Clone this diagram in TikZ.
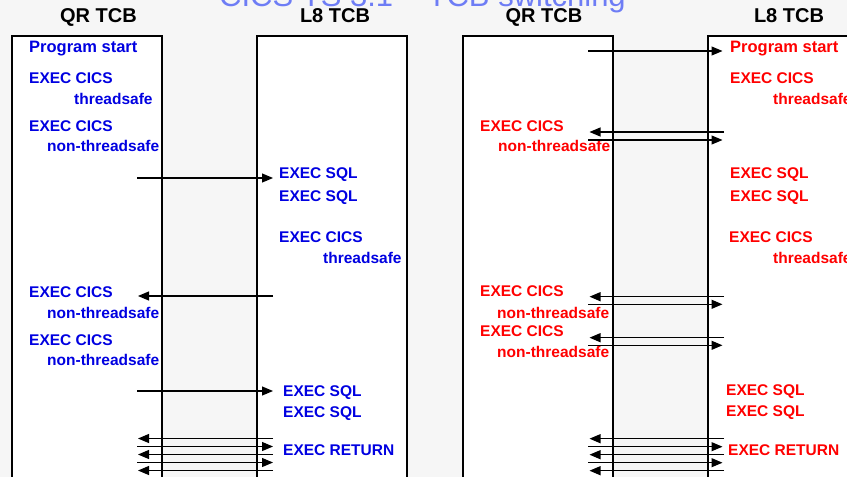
\documentclass[tikz,border=0pt]{standalone}
\usepackage{fontspec}
\setmainfont{Liberation Sans}
\usetikzlibrary{arrows.meta}
\definecolor{tblue}{RGB}{0,0,225}
\definecolor{tred}{RGB}{255,0,0}
\definecolor{ttitle}{RGB}{110,125,245}
\definecolor{bgc}{RGB}{246,246,246}
\begin{document}
\begin{tikzpicture}[x=1pt,y=-1pt,
  tcb/.style={draw=black,line width=2.2pt,fill=white,anchor=north west,minimum width=150pt,minimum height=460pt,inner sep=0},
  hdr/.style={font=\fontsize{20}{24}\selectfont\bfseries,anchor=base,inner sep=0},
  bt/.style={font=\fontsize{15.5}{18}\selectfont\bfseries,text=tblue,anchor=base west,inner sep=0},
  rt/.style={bt,text=tred},
  bigt/.style={font=\fontsize{16.5}{19}\selectfont\bfseries},
  conn/.style={line width=1.2pt,-{Triangle[length=11pt,width=9pt]}}]
\useasboundingbox (0,0) rectangle (847,477);
\fill[bgc] (0,0) rectangle (847,477);

% title (cut at top)
\node[anchor=base west,font=\fontsize{31}{36}\selectfont,text=ttitle,inner sep=0] (title) at (219,6) {CICS TS 3.1 – TCB switching};

% boxes
\node[tcb] (qrA) at (11,35) {};
\node[tcb] (leA) at (256,35) {};
\node[tcb] (qrB) at (461.5,35) {};
\node[tcb] (leB) at (707,35) {};

% headers
\node[hdr] (hqrA) at (98.5,22) {QR TCB};
\node[hdr] (hleA) at (335,22) {L8 TCB};
\node[hdr] (hqrB) at (544,22) {QR TCB};
\node[hdr] (hleB) at (789,22) {L8 TCB};

% left scenario (blue)
\node[bt,bigt] (b1) at (29,52) {Program start};
\node[bt] (b2) at (29,83.3) {EXEC CICS};
\node[bt] (b3) at (74,104) {threadsafe};
\node[bt] (b4) at (29,131) {EXEC CICS};
\node[bt] (b5) at (47,151.7) {non-threadsafe};
\node[bt] (b6) at (279,178.3) {EXEC SQL};
\node[bt] (b7) at (279,201.7) {EXEC SQL};
\node[bt] (b8) at (279,242.3) {EXEC CICS};
\node[bt] (b9) at (323,263) {threadsafe};
\node[bt] (b10) at (29,297.3) {EXEC CICS};
\node[bt] (b11) at (47,318) {non-threadsafe};
\node[bt] (b12) at (29,345) {EXEC CICS};
\node[bt] (b13) at (47,365) {non-threadsafe};
\node[bt] (b14) at (283,396) {EXEC SQL};
\node[bt] (b15) at (283,417.3) {EXEC SQL};
\node[bt] (b16) at (283,455.3) {EXEC RETURN};

% right scenario (red)
\node[rt,bigt] (r1) at (730,52) {Program start};
\node[rt] (r2) at (730,83.3) {EXEC CICS};
\node[rt] (r3) at (773,104) {threadsafe};
\node[rt] (r4) at (480,131) {EXEC CICS};
\node[rt] (r5) at (498,151.7) {non-threadsafe};
\node[rt] (r6) at (730,178.3) {EXEC SQL};
\node[rt] (r7) at (730,201.7) {EXEC SQL};
\node[rt] (r8) at (729,242.3) {EXEC CICS};
\node[rt] (r9) at (773,263) {threadsafe};
\node[rt] (r10) at (480,296.7) {EXEC CICS};
\node[rt] (r11) at (497,318) {non-threadsafe};
\node[rt] (r12) at (480,336.7) {EXEC CICS};
\node[rt] (r13) at (497,357.3) {non-threadsafe};
\node[rt] (r14) at (726,395.7) {EXEC SQL};
\node[rt] (r15) at (726,416.7) {EXEC SQL};
\node[rt] (r16) at (728,455) {EXEC RETURN};

% left scenario arrows: to the right (QR -> L8)
\foreach \i/\y in {1/178,2/391,3/446.5,4/462.5}{
  \coordinate (lra\i) at (137,\y);
  \coordinate (lrb\i) at (273,\y);
  \draw[conn] (lra\i) -- (lrb\i);
}
% left scenario arrows: to the left (L8 -> QR)
\foreach \i/\y in {1/296,2/438.5,3/454.5,4/470.5}{
  \coordinate (lla\i) at (273,\y);
  \coordinate (llb\i) at (138,\y);
  \draw[conn] (lla\i) -- (llb\i);
}
% right scenario arrows: to the right
\foreach \i/\y in {1/51,2/140,3/304.3,4/345.3,5/446.7,6/462.7}{
  \coordinate (rra\i) at (588,\y);
  \coordinate (rrb\i) at (722.5,\y);
  \draw[conn] (rra\i) -- (rrb\i);
}
% right scenario arrows: to the left
\foreach \i/\y in {1/132,2/296.7,3/337.7,4/438.7,5/454.7,6/470.7}{
  \coordinate (rla\i) at (724,\y);
  \coordinate (rlb\i) at (589.5,\y);
  \draw[conn] (rla\i) -- (rlb\i);
}
\end{tikzpicture}
\end{document}
